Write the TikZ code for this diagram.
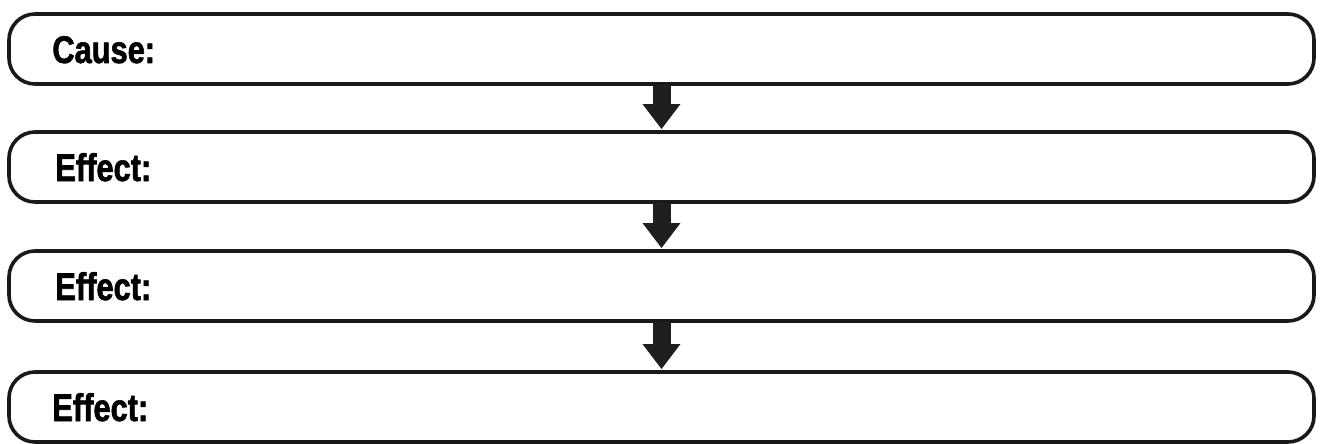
\documentclass[tikz,border=0pt]{standalone}
\usepackage{fontspec}
\newfontfamily\lab[FakeStretch=0.8,BoldFeatures={FakeBold=1.6}]{Liberation Sans}
\usetikzlibrary{arrows.meta}
\tikzset{
  box/.style={draw=black!90, line width=3.6pt, rounded corners=26pt,
    minimum width=1305pt, minimum height=70pt, inner sep=0pt},
  lbl/.style={anchor=west, inner sep=0pt, text height=28pt, text depth=0pt,
    font=\lab\bfseries\fontsize{38.5}{42}\selectfont},
  down/.style={draw=black!88, line width=18pt,
    -{Triangle[width=36pt,length=25pt]}, shorten <=-1pt}
}
\begin{document}
\begin{tikzpicture}[x=1pt,y=-1pt]
\useasboundingbox (0,0) rectangle (1325,444);
\node[box] (b1) at (661.5,49) {};
\node[box] (b2) at (661.5,167) {};
\node[box] (b3) at (661.5,286) {};
\node[box] (b4) at (661.5,407) {};
\node[lbl] (l1) at ([xshift=45pt]b1.west) {Cause:};
\node[lbl] (l2) at ([xshift=48pt]b2.west) {Effect:};
\node[lbl] (l3) at ([xshift=48pt]b3.west) {Effect:};
\node[lbl] (l4) at ([xshift=45pt]b4.west) {Effect:};
\draw[down] (b1.south) -- ([yshift=1pt]b2.north);
\draw[down] (b2.south) -- ([yshift=1pt]b3.north);
\draw[down] (b3.south) -- ([yshift=1pt]b4.north);
\end{tikzpicture}
\end{document}
